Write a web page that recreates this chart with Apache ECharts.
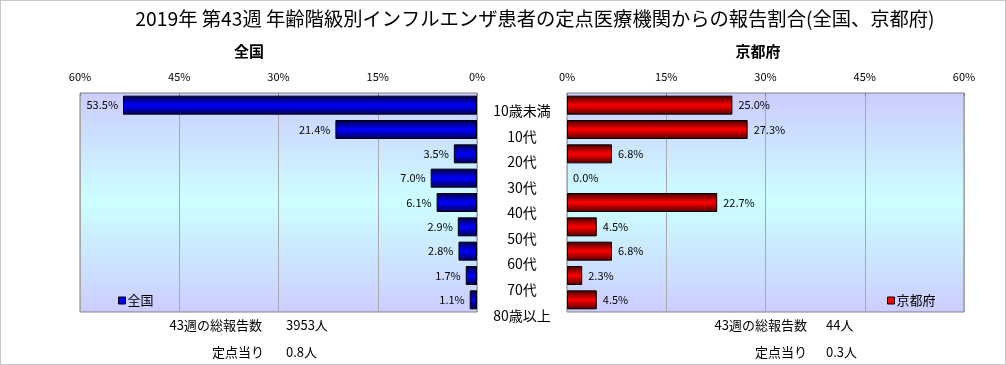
<!DOCTYPE html>
<html><head><meta charset="utf-8">
<script src="https://cdn.jsdelivr.net/npm/echarts@6/dist/echarts.min.js"></script>
<style>html,body{margin:0;padding:0;background:#fff}#c{width:1004px;height:363px;border:1px solid #c8c8c8}</style>
</head><body><div id="c"></div>
<script>
const categories = ['10歳未満','10代','20代','30代','40代','50代','60代','70代','80歳以上'];
const zenkokuValues = [53.5, 21.4, 3.5, 7.0, 6.1, 2.9, 2.8, 1.7, 1.1];
const kyotoValues = [25.0, 27.3, 6.8, 0.0, 22.7, 4.5, 6.8, 2.3, 4.5];
const axisMax = 60, axisStep = 15;
const titleText = '2019年 第43週 年齢階級別インフルエンザ患者の定点医療機関からの報告割合(全国、京都府)';
const leftSummary = ['43週の総報告数','3953人','定点当り','0.8人'];
const rightSummary = ['43週の総報告数','44人','定点当り','0.3人'];

const FONT = '"Noto Sans CJK JP", sans-serif';
const chart = echarts.init(document.getElementById('c'));
function bgGrad(){ return new echarts.graphic.LinearGradient(0,0,0,1,[
  {offset:0,color:'#ccccff'},{offset:0.5,color:'#ccffff'},{offset:1,color:'#ccccff'}]); }
const blueGrad = new echarts.graphic.LinearGradient(0,0,0,1,[
  {offset:0,color:'#000040'},{offset:0.5,color:'#0000ff'},{offset:1,color:'#000050'}]);
const redGrad = new echarts.graphic.LinearGradient(0,0,0,1,[
  {offset:0,color:'#400000'},{offset:0.5,color:'#ff0000'},{offset:1,color:'#500000'}]);

function xAx(gi, inverse){
  return {gridIndex:gi, type:'value', min:0, max:axisMax, interval:axisStep, inverse:inverse, position:'top',
    axisLine:{show:false}, axisTick:{show:true, inside:true, length:3, lineStyle:{color:'#808080'}},
    splitLine:{show:true, lineStyle:{color:'#a8a8a8', width:1}},
    axisLabel:{formatter:'{value}%', color:'#000', fontSize:11, fontFamily:FONT, margin:11}};
}
const ts = {fontSize:13, color:'#000', fontFamily:FONT, fontWeight:'normal'};
function barData(vals){ return vals.map(v => v === 0 ? {value:v, itemStyle:{borderWidth:0}} : v); }
chart.setOption({
  animation:false,
  title:[
    {text:titleText, left:529, top:3, textAlign:'center', textStyle:{fontSize:19.3, fontWeight:'normal', color:'#000', fontFamily:FONT}},
    {text:'全国', left:243, top:38, textAlign:'center', textStyle:{fontSize:15, fontWeight:'bold', color:'#000', fontFamily:FONT}},
    {text:'京都府', left:752, top:38, textAlign:'center', textStyle:{fontSize:15, fontWeight:'bold', color:'#000', fontFamily:FONT}},
    {text:leftSummary[0], right:1006-268, top:313, textStyle:ts},
    {text:leftSummary[1], left:280, top:313, textStyle:ts},
    {text:leftSummary[2], right:1006-270, top:340, textStyle:ts},
    {text:leftSummary[3], left:280, top:340, textStyle:ts},
    {text:rightSummary[0], right:1006-813, top:313, textStyle:ts},
    {text:rightSummary[1], left:820, top:313, textStyle:ts},
    {text:rightSummary[2], right:1006-813, top:340, textStyle:ts},
    {text:rightSummary[3], left:820, top:340, textStyle:ts}
  ],
  legend:[
    {data:['全国'], left:112, top:288, icon:'rect', itemWidth:7, itemHeight:7, itemGap:2,
     textStyle:{fontSize:13, color:'#000', fontFamily:FONT, padding:[0,0,0,-3]}, itemStyle:{color:'#0000ff', borderColor:'#000', borderWidth:1}},
    {data:['京都府'], left:881, top:288, icon:'rect', itemWidth:7, itemHeight:7, itemGap:2,
     textStyle:{fontSize:13, color:'#000', fontFamily:FONT, padding:[0,0,0,-3]}, itemStyle:{color:'#ff0000', borderColor:'#000', borderWidth:1}}
  ],
  grid:[
    {left:79, width:397, top:92, height:219, show:true, backgroundColor:bgGrad(), borderColor:'#808080', borderWidth:1},
    {left:566, width:397, top:92, height:219, show:true, backgroundColor:bgGrad(), borderColor:'#808080', borderWidth:1},
    {left:476, width:90, top:97, height:230, show:false}
  ],
  xAxis:[ xAx(0,true), xAx(1,false),
    {gridIndex:2, type:'value', show:false, min:0, max:1} ],
  yAxis:[
    {gridIndex:0, type:'category', data:categories, inverse:true, axisLabel:{show:false}, axisTick:{show:false}, axisLine:{show:false}},
    {gridIndex:1, type:'category', data:categories, inverse:true, axisLabel:{show:false}, axisTick:{show:false}, axisLine:{show:false}},
    {gridIndex:2, type:'category', data:categories, inverse:true, position:'left', axisTick:{show:false}, axisLine:{show:false},
     axisLabel:{margin:-45, align:'center', color:'#000', fontSize:14, fontFamily:FONT}}
  ],
  series:[
    {name:'全国', type:'bar', xAxisIndex:0, yAxisIndex:0, data:barData(zenkokuValues), barWidth:19,
     itemStyle:{color:blueGrad, borderColor:'#000', borderWidth:1},
     label:{show:true, position:'left', distance:5, formatter:p=>p.value.toFixed(1)+'%', color:'#000', fontSize:11, fontFamily:FONT}},
    {name:'京都府', type:'bar', xAxisIndex:1, yAxisIndex:1, data:barData(kyotoValues), barWidth:19,
     itemStyle:{color:redGrad, borderColor:'#000', borderWidth:1},
     label:{show:true, position:'right', distance:6, formatter:p=>p.value.toFixed(1)+'%', color:'#000', fontSize:11, fontFamily:FONT}}
  ]
});
</script></body></html>
